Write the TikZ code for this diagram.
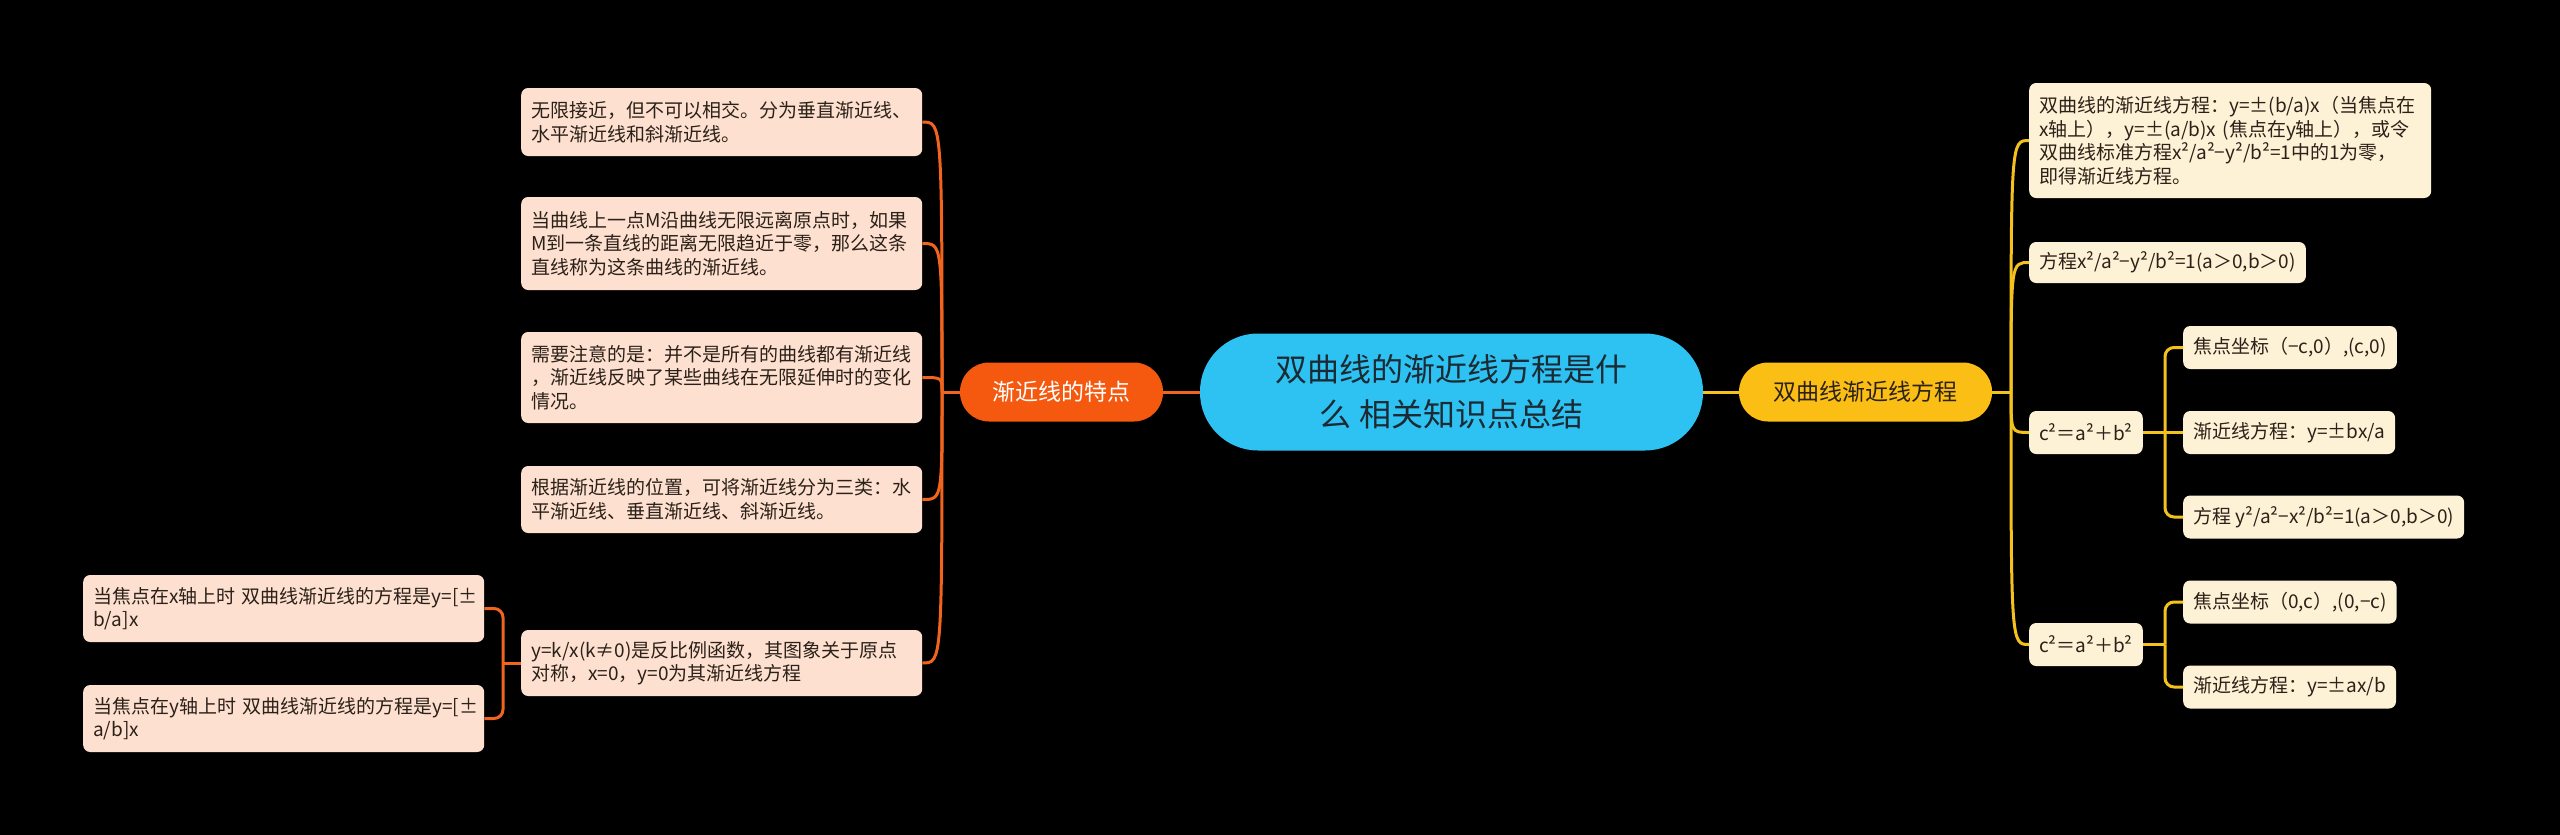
\documentclass[tikz,border=0pt]{standalone}
\usepackage{fontspec}
\setmainfont{Noto Sans CJK SC}

\definecolor{rootblue}{HTML}{2EC2F3}
\definecolor{lbranch}{HTML}{F5590F}
\definecolor{rbranch}{HTML}{FBBE14}
\definecolor{lleaf}{HTML}{FDE0D0}
\definecolor{rleaf}{HTML}{FDF2D6}
\definecolor{ink}{HTML}{2B2118}
\definecolor{rootink}{HTML}{1C2A33}
\definecolor{lwirecol}{HTML}{F0641E}
\definecolor{rwirecol}{HTML}{F4C21C}

\tikzset{
  rootbox/.style={fill=rootblue, text=rootink, rounded corners=58pt, minimum width=503pt,
    minimum height=117pt, inner sep=0pt, align=center, font=\fontsize{32}{45}\selectfont},
  mainbox/.style={rounded corners=29pt, minimum height=59pt, inner sep=0pt,
    font=\fontsize{23}{28}\selectfont},
  leafbox/.style={rounded corners=7pt, anchor=west, inner xsep=10pt, inner ysep=0pt,
    align=left, text=ink, font=\fontsize{19}{23.6}\selectfont},
  lleafbox/.style={leafbox, fill=lleaf, text width=381pt},
  rleafbox/.style={leafbox, fill=rleaf, minimum height=43pt},
  lwire/.style={draw=lwirecol, line width=3pt},
  rwire/.style={draw=rwirecol, line width=3pt}
}

\begin{document}
\begin{tikzpicture}[x=1pt,y=-1pt]
  \fill[black] (0,0) rectangle (2560,835);

  % centre and the two branches
  \node[rootbox] (root) at (1451.5,392) {双曲线的渐近线方程是什\\么 相关知识点总结};
  \node[mainbox, fill=lbranch, text=white, minimum width=203pt] (traits) at (1061.5,392) {渐近线的特点};
  \node[mainbox, fill=rbranch, text=ink, minimum width=253pt] (equ) at (1865.5,392) {双曲线渐近线方程};

  % left leaves
  \node[lleafbox, minimum height=68pt] (l1) at (521,122) {无限接近，但不可以相交。分为垂直渐近线、\\水平渐近线和斜渐近线。};
  \node[lleafbox, minimum height=93pt] (l2) at (521,243.5) {当曲线上一点M沿曲线无限远离原点时，如果\\M到一条直线的距离无限趋近于零，那么这条\\直线称为这条曲线的渐近线。};
  \node[lleafbox, minimum height=91pt] (l3) at (521,377.5) {需要注意的是：并不是所有的曲线都有渐近线\\，渐近线反映了某些曲线在无限延伸时的变化\\情况。};
  \node[lleafbox, minimum height=67pt] (l4) at (521,499.5) {根据渐近线的位置，可将渐近线分为三类：水\\平渐近线、垂直渐近线、斜渐近线。};
  \node[lleafbox, minimum height=66pt] (l5) at (521,663) {y=k/x(k≠0)是反比例函数，其图象关于原点\\对称，x=0，y=0为其渐近线方程};
  \node[lleafbox, minimum height=67pt] (ll1) at (83,608.5) {\mbox{当焦点在x轴上时 双曲线渐近线的方程是y=[±}\\b/a]x};
  \node[lleafbox, minimum height=67pt] (ll2) at (83,718.5) {\mbox{当焦点在y轴上时 双曲线渐近线的方程是y=[±}\\a/b]x};

  % right leaves
  \node[rleafbox, text width=382pt, minimum height=115pt] (r1) at (2029,140.5) {双曲线的渐近线方程：y=±(b/a)x（当焦点在\\x轴上），y=±(a/b)x (焦点在y轴上），或令\\双曲线标准方程x²/a²−y²/b²=1中的1为零，\\即得渐近线方程。};
  \node[rleafbox, minimum height=41pt] (r2) at (2029,262.5) {方程x²/a²−y²/b²=1(a＞0,b＞0)};
  \node[rleafbox] (r3) at (2029,432.5) {c²＝a²＋b²};
  \node[rleafbox] (r3a) at (2183,347.5) {焦点坐标（−c,0）,(c,0)};
  \node[rleafbox] (r3b) at (2183,432.5) {渐近线方程：y=±bx/a};
  \node[rleafbox] (r3c) at (2183,517) {方程 y²/a²−x²/b²=1(a＞0,b＞0)};
  \node[rleafbox] (r4) at (2029,644.5) {c²＝a²＋b²};
  \node[rleafbox] (r4a) at (2183,602) {焦点坐标（0,c）,(0,−c)};
  \node[rleafbox] (r4b) at (2183,687) {渐近线方程：y=±ax/b};

  \coordinate (ljunc) at (942,392);
  \coordinate (rjunc) at (2011,392);
  \coordinate (l5j) at (503,663);
  \coordinate (r3j) at (2165,432.5);
  \coordinate (r4j) at (2165,644.5);

  % connectors
  \draw[lwire] (root.west) -- (traits.east);
  \draw[lwire] (traits.west) -- (ljunc);
  \foreach \n in {l1,l2,l3,l4,l5}
    \draw[lwire] (ljunc) .. controls (ljunc |- \n.east) .. (\n.east);
  \draw[lwire] (l5.west) -- (l5j);
  \draw[lwire, rounded corners=9pt] (l5j) |- (ll1.east);
  \draw[lwire, rounded corners=9pt] (l5j) |- (ll2.east);

  \draw[rwire] (root.east) -- (equ.west);
  \draw[rwire] (equ.east) -- (rjunc);
  \foreach \n in {r1,r2,r3,r4}
    \draw[rwire] (rjunc) .. controls (rjunc |- \n.west) .. (\n.west);
  \draw[rwire] (r3.east) -- (r3j);
  \draw[rwire, rounded corners=9pt] (r3j) |- (r3a.west);
  \draw[rwire] (r3j) -- (r3b.west);
  \draw[rwire, rounded corners=9pt] (r3j) |- (r3c.west);
  \draw[rwire] (r4.east) -- (r4j);
  \draw[rwire, rounded corners=9pt] (r4j) |- (r4a.west);
  \draw[rwire, rounded corners=9pt] (r4j) |- (r4b.west);
\end{tikzpicture}
\end{document}
